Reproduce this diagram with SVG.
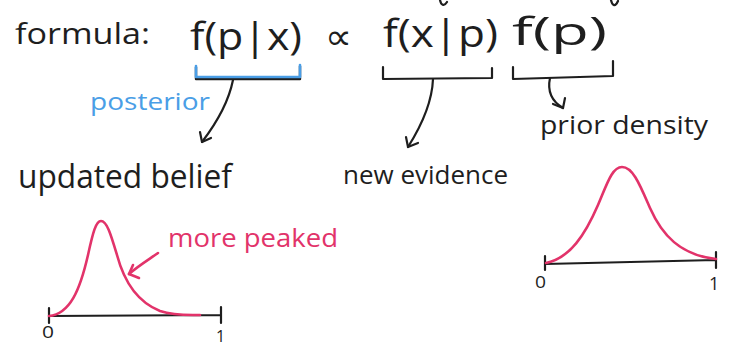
<svg xmlns="http://www.w3.org/2000/svg" width="729" height="347" viewBox="0 0 729 347">
<defs>
<style>
.t{font-family:"Open Sans","Liberation Sans",sans-serif;fill:#1e1e1e;}
.ink{fill:none;stroke:#1e1e1e;stroke-width:2.2;stroke-linecap:round;stroke-linejoin:round;}
.blue{fill:none;stroke:#4a9ee6;stroke-width:2.6;stroke-linecap:round;stroke-linejoin:round;}
.pink{fill:none;stroke:#e2336a;stroke-width:2.6;stroke-linecap:round;stroke-linejoin:round;}
</style>
</defs>
<rect width="729" height="347" fill="#ffffff"/>
<!-- cropped strokes at top edge -->
<path class="ink" d="M440,0 C441,5 444,7 447,2"/>
<path class="ink" d="M611,0 C612,5 615,8 618,1"/>

<g id="formula-label">
<text class="t" x="15" y="44" font-size="30" textLength="135" lengthAdjust="spacingAndGlyphs">formula:</text>
</g>
<g id="posterior-term">
<text class="t" x="190" y="50" font-size="38" textLength="112" lengthAdjust="spacingAndGlyphs">f(p|x)</text>
<path d="M196,66 L196,78 L300,78 L300,65" fill="none" stroke="#1e1e1e" stroke-width="2.4" stroke-linejoin="round" transform="translate(0,1)"/>
<path class="blue" d="M196,66 L196,77 L300,77 L300,65"/>
</g>
<g id="proportional">
<text x="325" y="49" font-size="36" font-family="DejaVu Sans,sans-serif" fill="#1e1e1e" textLength="27" lengthAdjust="spacingAndGlyphs">∝</text>
</g>
<g id="likelihood-term">
<text class="t" x="383" y="47" font-size="38" textLength="115" lengthAdjust="spacingAndGlyphs">f(x|p)</text>
<path class="ink" d="M383,67 L383,79 L492,78 L492,68"/>
</g>
<g id="prior-term">
<text class="t" x="512" y="45" font-size="38" textLength="95" lengthAdjust="spacingAndGlyphs">f(p)</text>
<path class="ink" d="M513,67 L513,79 L613,76 L613,61"/>
</g>
<g id="posterior-label">
<text x="90" y="110" font-size="24" font-family="Open Sans,Liberation Sans,sans-serif" fill="#4a9ee6" textLength="120" lengthAdjust="spacingAndGlyphs">posterior</text>
</g>
<g id="updated-belief">
<text class="t" x="18" y="188" font-size="32" textLength="214" lengthAdjust="spacingAndGlyphs">updated belief</text>
</g>
<g id="new-evidence">
<text class="t" x="343" y="184" font-size="25" textLength="165" lengthAdjust="spacingAndGlyphs">new evidence</text>
</g>
<g id="prior-density">
<text class="t" x="540" y="134" font-size="25" textLength="168" lengthAdjust="spacingAndGlyphs">prior density</text>
</g>

<g id="posterior-plot">
<path class="ink" d="M49,316 L221,315 M49,308 L49,323 M221,307 L221,323"/>
<path class="pink" d="M49,316 C70,314 80,290 88,255 C93,232 96,221 101,221 C107,221 111,235 117,255 C125,285 140,303 160,311 C175,316 190,315 200,315"/>
<text class="t" x="42" y="338" font-size="16" textLength="12" lengthAdjust="spacingAndGlyphs">0</text>
<text class="t" x="216" y="342" font-size="16">1</text>
<text x="168" y="247" font-size="25" font-family="Open Sans,Liberation Sans,sans-serif" fill="#e2336a" textLength="170" lengthAdjust="spacingAndGlyphs">more peaked</text>
</g>
<g id="prior-plot">
<path class="ink" d="M545,264 L716,260 M545,256 L545,270 M716,252 L716,268"/>
<path class="pink" d="M546,263 C570,258 585,235 598,205 C607,184 612,167 622,167 C633,167 640,185 650,208 C662,235 680,255 716,259"/>
<text class="t" x="535" y="288" font-size="16" textLength="11" lengthAdjust="spacingAndGlyphs">0</text>
<text class="t" x="709" y="290" font-size="18">1</text>
</g>

<g id="connectors">
<path class="ink" d="M233,80 C228,105 215,125 202,142"/>
<path class="ink" d="M200,132 L202,142 L211,138"/>
<path class="ink" d="M433,79 C432,105 420,128 408,147"/>
<path class="ink" d="M406,137 L408,147 L418,143"/>
<path class="ink" d="M550,78 C547,92 553,102 563,108"/>
<path class="ink" d="M553,104 L563,108 L565,98"/>
<path class="pink" d="M158,253 C148,260 138,266 129,274"/>
<path class="pink" d="M133,265 L129,274 L139,278"/>
</g>
</svg>
